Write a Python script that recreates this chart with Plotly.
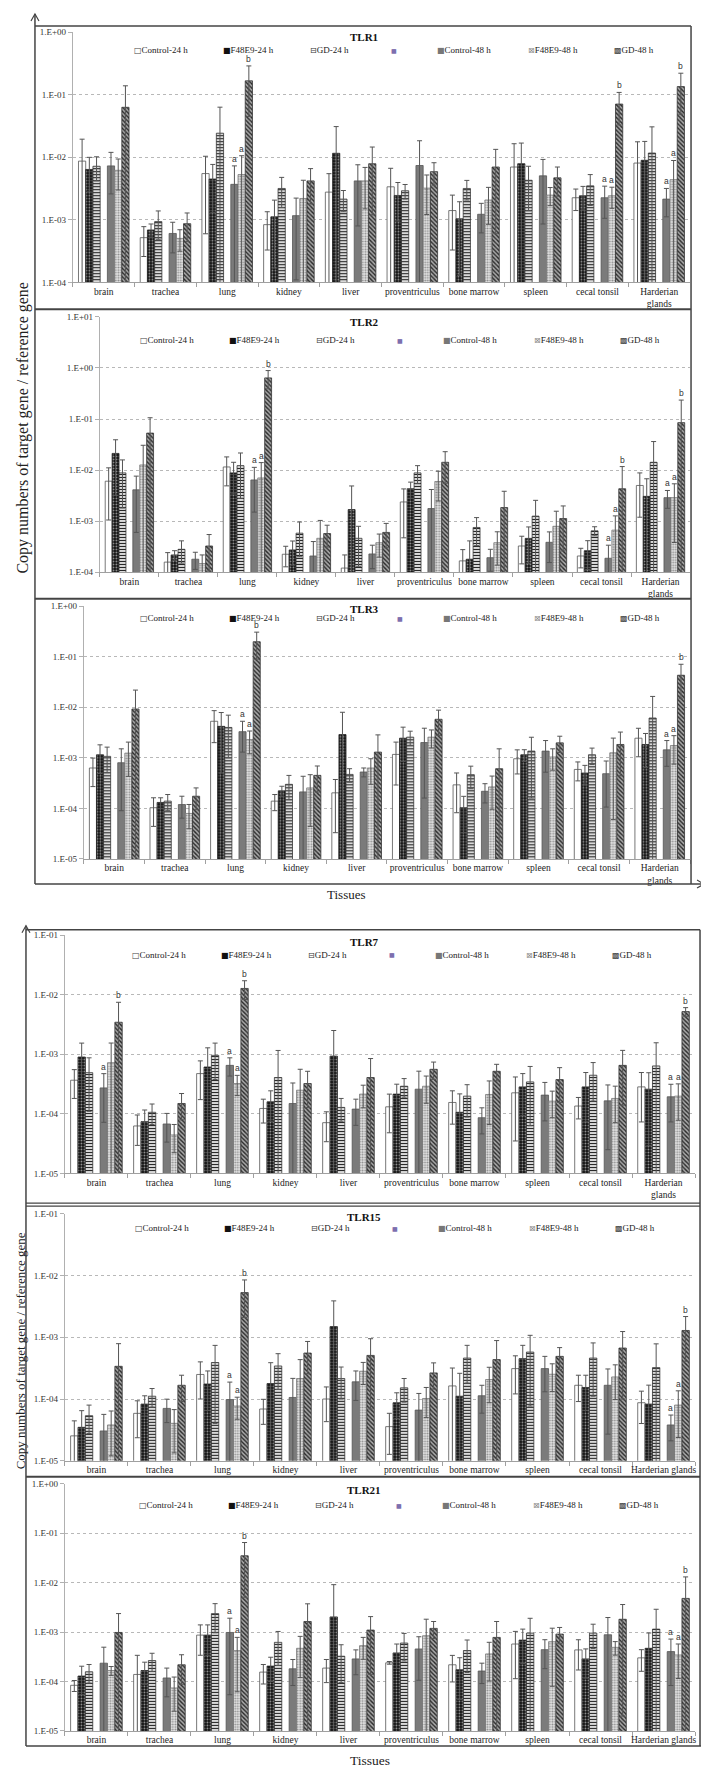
import math
import plotly.graph_objects as go

W, H = 709, 1765

tissues = ["brain", "trachea", "lung", "kidney", "liver", "proventriculus",
           "bone marrow", "spleen", "cecal tonsil", "Harderian glands"]
tissue_labels_wrapped = ["brain", "trachea", "lung", "kidney", "liver", "proventriculus",
                         "bone marrow", "spleen", "cecal tonsil", "Harderian<br>glands"]
series_names = ["Control-24 h", "F48E9-24 h", "GD-24 h", "Control-48 h", "F48E9-48 h", "GD-48 h"]
panel_titles = ["TLR1", "TLR2", "TLR3", "TLR7", "TLR15", "TLR21"]
y_label = "Copy numbers of target gene / reference gene"
x_label = "Tissues"

# ---- TLR1 ----
tlr1_mean = [
    [8.7e-3, 5.2e-4, 5.5e-3, 8.4e-4, 2.78e-3, 3.38e-3, 1.41e-3, 7.0e-3, 2.26e-3, 8.1e-3],
    [6.4e-3, 6.9e-4, 4.5e-3, 1.12e-3, 1.16e-2, 2.46e-3, 1.04e-3, 7.9e-3, 2.43e-3, 8.96e-3],
    [7.2e-3, 9.4e-4, 2.43e-2, 3.18e-3, 2.15e-3, 2.92e-3, 3.18e-3, 4.3e-3, 3.5e-3, 1.17e-2],
    [7.3e-3, 6.07e-4, 3.7e-3, 1.17e-3, 4.2e-3, 7.4e-3, 1.23e-3, 5.06e-3, 2.26e-3, 2.15e-3],
    [6.2e-3, 5.06e-4, 5.3e-3, 2.2e-3, 4.2e-3, 3.22e-3, 2.08e-3, 2.49e-3, 2.43e-3, 4.4e-3],
    [6.3e-2, 8.7e-4, 0.167, 4.2e-3, 7.9e-3, 5.9e-3, 7.0e-3, 4.7e-3, 7.1e-2, 0.135],
]
tlr1_err = [
    [1.08e-2, 2.6e-4, 4.9e-3, 5.1e-4, 2.7e-3, 3.3e-3, 1.08e-3, 9.5e-3, 8.5e-4, 9.6e-3],
    [3.6e-3, 1.7e-4, 3.2e-3, 9.5e-4, 1.94e-2, 1.5e-3, 9.1e-4, 9.0e-3, 1.0e-3, 9.0e-3],
    [3.0e-3, 4.5e-4, 3.9e-2, 1.6e-3, 8e-4, 7.6e-4, 1.1e-3, 2.9e-3, 1.8e-3, 1.9e-2],
    [4.7e-3, 3.1e-4, 3.6e-3, 1.06e-3, 3.4e-3, 1.1e-2, 6.1e-4, 4.2e-3, 1.2e-3, 1.03e-3],
    [3.2e-3, 1.9e-4, 5.3e-3, 2.1e-3, 2.7e-3, 2.0e-3, 1.23e-3, 8e-4, 9e-4, 4.5e-3],
    [7.6e-2, 4.2e-4, 0.122, 2.4e-3, 6.7e-3, 2.3e-3, 6.4e-3, 2.3e-3, 3.8e-2, 8.6e-2],
]
tlr1_letters = [(2, 3, "a"), (2, 4, "a"), (2, 5, "b"), (8, 3, "a"), (8, 4, "a"), (8, 5, "b"),
                (9, 3, "a"), (9, 4, "a"), (9, 5, "b")]

# ---- TLR2 ----
tlr2_mean = [
    [6.05e-3, 1.57e-4, 1.15e-2, 2.24e-4, 1.2e-4, 2.37e-3, 1.66e-4, 3.25e-4, 2.07e-4, 4.99e-3],
    [2.12e-2, 2.17e-4, 8.8e-3, 2.72e-4, 1.68e-3, 4.3e-3, 1.79e-4, 4.58e-4, 2.63e-4, 3.05e-3],
    [8.8e-3, 2.8e-4, 1.22e-2, 5.8e-4, 4.6e-4, 8.8e-3, 7.5e-4, 1.25e-3, 6.45e-4, 1.42e-2],
    [4.1e-3, 1.79e-4, 6.4e-3, 2.07e-4, 2.27e-4, 1.76e-3, 1.92e-4, 3.84e-4, 1.87e-4, 2.88e-3],
    [1.26e-2, 1.47e-4, 7.0e-3, 4.6e-4, 3.77e-4, 5.97e-3, 3.77e-4, 7.9e-4, 6.65e-4, 2.88e-3],
    [5.3e-2, 3.25e-4, 0.64, 5.7e-4, 6.0e-4, 1.42e-2, 1.84e-3, 1.12e-3, 4.3e-3, 8.5e-2],
]
tlr2_err = [
    [5e-3, 8.4e-5, 6.6e-3, 9.7e-5, 9.7e-5, 1.9e-3, 1.1e-4, 1.8e-4, 8.6e-5, 3.8e-3],
    [1.8e-2, 4.6e-5, 5.4e-3, 1.35e-4, 3.2e-3, 1.5e-3, 2.3e-4, 3.1e-4, 1.5e-4, 3.7e-3],
    [7e-3, 1.3e-4, 9.4e-3, 3.8e-4, 3.3e-4, 3.4e-3, 4.2e-4, 1.3e-3, 1.3e-4, 2.2e-2],
    [3.5e-3, 6.6e-5, 4.9e-3, 1.9e-4, 1.1e-4, 2.4e-3, 8.8e-5, 2.3e-4, 1.5e-4, 1.1e-3],
    [1.8e-2, 7e-5, 7.0e-3, 5.7e-4, 1.8e-4, 3.5e-3, 2.4e-4, 7.7e-4, 6e-4, 2.5e-3],
    [5.3e-2, 2.2e-4, 0.25, 2.6e-4, 3e-4, 8.7e-3, 2.0e-3, 8.6e-4, 7.4e-3, 0.15],
]
tlr2_letters = [(2, 3, "a"), (2, 4, "a"), (2, 5, "b"), (8, 3, "a"), (8, 4, "a"), (8, 5, "b"),
                (9, 3, "a"), (9, 4, "a"), (9, 5, "b")]

# ---- TLR3 ----
tlr3_mean = [
    [6.3e-4, 1.03e-4, 5.3e-3, 1.39e-4, 2.03e-4, 1.17e-3, 2.92e-4, 9.6e-4, 5.9e-4, 2.45e-3],
    [1.15e-3, 1.31e-4, 4.2e-3, 2.22e-4, 2.89e-3, 2.45e-3, 1.03e-4, 1.15e-3, 5.0e-4, 1.84e-3],
    [1.07e-3, 1.39e-4, 4.0e-3, 2.99e-4, 4.7e-4, 2.57e-3, 4.65e-4, 1.36e-3, 1.15e-3, 6.15e-3],
    [8.0e-4, 1.19e-4, 3.3e-3, 2.12e-4, 5.25e-4, 2.01e-3, 2.18e-4, 1.36e-3, 4.86e-4, 1.44e-3],
    [1.24e-3, 7.94e-5, 2.3e-3, 2.54e-4, 6.3e-4, 2.57e-3, 2.66e-4, 1.04e-3, 1.26e-3, 1.75e-3],
    [9.27e-3, 1.74e-4, 0.199, 4.5e-4, 1.3e-3, 5.8e-3, 6.1e-4, 1.98e-3, 1.84e-3, 4.32e-2],
]
tlr3_err = [
    [3.6e-4, 5.9e-5, 3.3e-3, 4.9e-5, 1.7e-4, 8.8e-4, 2.1e-4, 4.8e-4, 2.4e-4, 1.4e-3],
    [6.6e-4, 3.1e-5, 3.7e-3, 5.2e-5, 5.1e-3, 1.6e-3, 7e-5, 3e-4, 2.1e-4, 1.2e-3],
    [5.6e-4, 4.9e-5, 3e-3, 1.5e-4, 1.4e-4, 8e-4, 2.2e-4, 1.2e-3, 4.1e-4, 1.03e-2],
    [7.1e-4, 5.5e-5, 2e-3, 2.2e-4, 1.05e-4, 1.85e-3, 9e-5, 8.4e-4, 3.8e-4, 7.6e-4],
    [8.1e-4, 4e-5, 1.1e-3, 2.1e-4, 3.3e-4, 1e-3, 1.7e-4, 4.7e-4, 1.2e-3, 1e-3],
    [1.27e-2, 8e-5, 0.109, 2.4e-4, 1.55e-3, 3e-3, 9e-4, 7e-4, 1.4e-3, 2.8e-2],
]
tlr3_letters = [(2, 3, "a"), (2, 4, "a"), (2, 5, "b"), (9, 3, "a"), (9, 4, "a"), (9, 5, "b")]

# ---- TLR7 ----
tlr7_mean = [
    [3.66e-4, 6.25e-5, 4.73e-4, 1.23e-4, 7.1e-5, 1.31e-4, 1.55e-4, 2.25e-4, 1.35e-4, 2.83e-4],
    [8.97e-4, 7.38e-5, 6.1e-4, 1.59e-4, 9.3e-4, 2.14e-4, 1.06e-4, 2.83e-4, 2.83e-4, 2.59e-4],
    [4.9e-4, 1.06e-4, 9.57e-4, 4.06e-4, 1.28e-4, 2.9e-4, 1.98e-4, 3.43e-4, 4.44e-4, 6.36e-4],
    [2.72e-4, 6.75e-5, 6.5e-4, 1.49e-4, 1.2e-4, 2.59e-4, 8.6e-5, 2.06e-4, 1.65e-4, 1.93e-4],
    [7.2e-4, 4.42e-5, 3.22e-4, 2.49e-4, 2.14e-4, 2.9e-4, 2.11e-4, 1.63e-4, 1.81e-4, 1.98e-4],
    [3.44e-3, 1.49e-4, 1.27e-2, 3.22e-4, 4.06e-4, 5.58e-4, 5.17e-4, 3.75e-4, 6.5e-4, 5.19e-3],
]
tlr7_err = [
    [1.85e-4, 3.3e-5, 3e-4, 5.3e-5, 3.7e-5, 8.3e-5, 8.8e-5, 1.9e-4, 5.3e-5, 2.1e-4],
    [6.4e-4, 4.2e-5, 6.7e-4, 8.4e-5, 1.57e-3, 1e-4, 1.1e-4, 1.9e-4, 2.1e-4, 2.3e-4],
    [3.8e-4, 4e-5, 5.8e-4, 7.5e-4, 5.3e-5, 1e-4, 1.1e-4, 2.8e-4, 2.8e-4, 9.2e-4],
    [2e-4, 3.4e-5, 2.2e-4, 1.8e-4, 5.6e-5, 2.6e-4, 4e-5, 1.3e-4, 1.4e-4, 1.2e-4],
    [8.2e-4, 2.2e-5, 1.2e-4, 3.1e-4, 8.8e-5, 1.4e-4, 1.45e-4, 7.7e-5, 1.1e-4, 1.2e-4],
    [4e-3, 7e-5, 4.4e-3, 1.95e-4, 4.4e-4, 1.8e-4, 1.6e-4, 2.2e-4, 5.1e-4, 8.6e-4],
]
tlr7_letters = [(0, 3, "a"), (0, 5, "b"), (2, 3, "a"), (2, 4, "a"), (2, 5, "b"),
                (9, 3, "a"), (9, 4, "a"), (9, 5, "b")]

# ---- TLR15 ----
tlr15_mean = [
    [2.53e-5, 5.86e-5, 2.5e-4, 6.89e-5, 1.0e-4, 3.57e-5, 1.63e-4, 3.11e-4, 1.67e-4, 8.71e-5],
    [3.48e-5, 8.28e-5, 1.75e-4, 1.78e-4, 1.49e-3, 8.71e-5, 1.11e-4, 4.51e-4, 1.54e-4, 8.28e-5],
    [5.37e-5, 1.11e-4, 3.9e-4, 3.43e-4, 2.15e-4, 1.52e-4, 4.61e-4, 5.77e-4, 4.61e-4, 3.23e-4],
    [3.04e-5, 7.05e-5, 9.8e-5, 1.06e-4, 1.9e-4, 6.62e-5, 1.13e-4, 3.11e-4, 1.67e-4, 3.8e-5],
    [3.8e-5, 4.04e-5, 7.7e-5, 2.15e-4, 2.82e-4, 1.02e-4, 2.07e-4, 2.52e-4, 2.28e-4, 7.98e-5],
    [3.39e-4, 1.67e-4, 5.3e-3, 5.56e-4, 5.09e-4, 2.65e-4, 4.35e-4, 4.91e-4, 6.7e-4, 1.29e-3],
]
tlr15_err = [
    [1.9e-5, 3.5e-5, 1.5e-4, 3e-5, 5.7e-5, 2.3e-5, 1.55e-4, 1.9e-4, 7.6e-5, 4.7e-5],
    [3e-5, 3e-5, 1.1e-4, 2.1e-4, 2.4e-3, 3.9e-5, 1.5e-4, 2.9e-4, 8.9e-5, 8.5e-5],
    [2.6e-5, 3.7e-5, 3.5e-4, 2e-4, 1.15e-4, 6.3e-5, 2.8e-4, 5e-4, 3.5e-4, 4.6e-4],
    [2.6e-5, 2.9e-5, 9e-5, 1.1e-4, 9.5e-5, 5.7e-5, 5.4e-5, 1.8e-4, 1.4e-4, 1.7e-5],
    [2.6e-5, 2.7e-5, 3e-5, 2.2e-4, 1.1e-4, 5.2e-5, 1.2e-4, 1.2e-4, 1.3e-4, 5.6e-5],
    [4.5e-4, 7.6e-5, 3.2e-3, 3e-4, 4.4e-4, 1.2e-4, 4.5e-4, 1.9e-4, 5.7e-4, 8.8e-4],
]
tlr15_letters = [(2, 3, "a"), (2, 4, "a"), (2, 5, "b"), (9, 3, "a"), (9, 4, "a"), (9, 5, "b")]

# ---- TLR21 ----
tlr21_mean = [
    [8.38e-5, 1.39e-4, 8.7e-4, 1.55e-4, 1.87e-4, 2.39e-4, 2.18e-4, 5.74e-4, 4.36e-4, 3.01e-4],
    [1.29e-4, 1.67e-4, 8.7e-4, 2.05e-4, 2.03e-3, 3.79e-4, 1.73e-4, 6.9e-4, 2.87e-4, 4.7e-4],
    [1.57e-4, 2.66e-4, 2.37e-3, 6.21e-4, 3.25e-4, 6.01e-4, 4.22e-4, 9.55e-4, 9.55e-4, 1.15e-3],
    [2.35e-4, 1.18e-4, 9.84e-4, 1.81e-4, 2.87e-4, 4.56e-4, 1.63e-4, 4.42e-4, 8.84e-4, 4.03e-4],
    [1.67e-4, 7.41e-5, 4.22e-4, 4.7e-4, 5.32e-4, 8.44e-4, 3.62e-4, 6.4e-4, 4.92e-4, 3.45e-4],
    [9.84e-4, 2.18e-4, 3.51e-2, 1.64e-3, 1.1e-3, 1.19e-3, 7.81e-4, 9.12e-4, 1.82e-3, 4.81e-3],
]
tlr21_err = [
    [2.1e-5, 2e-4, 5.3e-4, 6.6e-5, 9.2e-5, 1.5e-5, 1.2e-4, 4.6e-4, 2.65e-4, 1.4e-4],
    [7.5e-5, 7.9e-5, 5.3e-4, 1.05e-4, 7.1e-3, 1.95e-4, 1.3e-4, 4.6e-4, 1.7e-4, 4.9e-4],
    [6.4e-5, 1.07e-4, 1.4e-3, 4.1e-4, 2.3e-4, 3.4e-4, 2.7e-4, 9.5e-4, 4.9e-4, 1.75e-3],
    [2.6e-4, 6.9e-5, 9.3e-4, 9.8e-5, 1.5e-4, 3.5e-4, 7.2e-5, 2.6e-4, 1.09e-3, 3.2e-4],
    [3.4e-5, 4.9e-5, 3.6e-4, 3.5e-4, 2.5e-4, 9.8e-4, 2.6e-4, 5.6e-4, 1.5e-4, 2.3e-4],
    [1.39e-3, 1.3e-4, 3e-2, 2.1e-3, 9.6e-4, 4.5e-4, 8.6e-4, 3.3e-4, 1.8e-3, 8.3e-3],
]
tlr21_letters = [(2, 3, "a"), (2, 4, "a"), (2, 5, "b"), (9, 3, "a"), (9, 4, "a"), (9, 5, "b")]

panel_means = [tlr1_mean, tlr2_mean, tlr3_mean, tlr7_mean, tlr15_mean, tlr21_mean]
panel_errs = [tlr1_err, tlr2_err, tlr3_err, tlr7_err, tlr15_err, tlr21_err]
panel_letters = [tlr1_letters, tlr2_letters, tlr3_letters, tlr7_letters, tlr15_letters, tlr21_letters]
panel_exp_range = [(-4, 0), (-4, 1), (-5, 0), (-5, -1), (-5, -1), (-5, 0)]

# ---------------- layout geometry (pixels) ----------------
def X(px):
    return px / W

def Y(py):
    return 1 - py / H

geom = [  # x0, x1, ytop, ybottom, wrapped labels, legend y, legend dx, title y
    (65, 683, 19.3, 271.0, True, 37.5, 0, 24),
    (92, 683, 305.7, 562.3, True, 329, 6, 311),
    (76, 683, 596.7, 850.7, True, 608.5, 6, 599),
    (57, 688, 927.3, 1167.0, True, 947, -2, 934),
    (57, 688, 1207.7, 1456.0, False, 1222, 1, 1211),
    (57, 688, 1479.3, 1727.7, False, 1501, 5, 1485),
]
legend_x = [124, 213, 300, 382, 428, 519, 605]

slot_w = 0.117
slot_start = -0.4095
series_slot = [0, 1, 2, 4, 5, 6]

styles = [
    dict(color="white", line=dict(color="#555", width=0.8)),
    dict(color="#111", line=dict(color="#222", width=0.8),
         pattern=dict(shape=".", bgcolor="#111", fgcolor="#9a9a9a", size=3, solidity=0.3, fillmode="replace")),
    dict(color="white", line=dict(color="#333", width=0.8),
         pattern=dict(shape="-", bgcolor="white", fgcolor="#222", size=3, solidity=0.45, fillmode="replace")),
    dict(color="#7b7b7b", line=dict(color="#555", width=0.8)),
    dict(color="#dddddd", line=dict(color="#777", width=0.8),
         pattern=dict(shape=".", bgcolor="#e4e4e4", fgcolor="#8a8a8a", size=2.6, solidity=0.4, fillmode="replace")),
    dict(color="#999", line=dict(color="#333", width=0.8),
         pattern=dict(shape="\\", bgcolor="#a8a8a8", fgcolor="#2a2a2a", size=3, solidity=0.45, fillmode="replace")),
]

legend_glyphs = [("□", "#444"), ("■", "#111"), ("⊟", "#333"), ("■", "#7d6fae"),
                 ("■", "#777"), ("⊠", "#888"), ("▩", "#444")]
legend_names = [series_names[0], series_names[1], series_names[2], "",
                series_names[3], series_names[4], series_names[5]]

SERIF = "Liberation Serif, Times New Roman, serif"

fig = go.Figure()
annotations = []
shapes = []
layout_axes = {}

for p in range(6):
    x0, x1, yt, yb, wrap, leg_y, leg_dx, title_y = geom[p]
    lo, hi = panel_exp_range[p]
    labels = tissue_labels_wrapped if wrap else tissues
    xa = "x" if p == 0 else f"x{p+1}"
    ya = "y" if p == 0 else f"y{p+1}"
    xkey = "xaxis" if p == 0 else f"xaxis{p+1}"
    ykey = "yaxis" if p == 0 else f"yaxis{p+1}"
    means = panel_means[p]
    errs = panel_errs[p]
    for k in range(6):
        st = styles[k]
        slot = series_slot[k]
        fig.add_trace(go.Bar(
            x=labels, y=means[k], xaxis=xa, yaxis=ya,
            name=series_names[k], showlegend=False,
            width=slot_w, offset=slot_start + slot * slot_w,
            marker=st,
            error_y=dict(type="data", array=errs[k], visible=True,
                         color="#555", thickness=1, width=2.5),
        ))
    layout_axes[xkey] = dict(
        domain=[X(x0), X(x1)], anchor=ya, type="category",
        categoryorder="array", categoryarray=labels, range=[-0.5, 9.5],
        showline=True, linecolor="#a0a0a0", linewidth=1,
        ticks="outside", tickson="boundaries", ticklen=4, tickcolor="#a0a0a0",
        tickangle=0,
        showgrid=False, zeroline=False, fixedrange=True,
        tickfont=dict(family=SERIF, size=9.5, color="#222"),
    )
    tv = [10.0 ** e for e in range(lo, hi + 1)]
    tt = ["1.E" + format(e, "+03d") for e in range(lo, hi + 1)]
    layout_axes[ykey] = dict(
        domain=[Y(yb), Y(yt)], anchor=xa, type="log", range=[lo, hi],
        tickmode="array", tickvals=tv, ticktext=tt,
        showgrid=True, gridcolor="#b8b8b8", griddash="dot", gridwidth=1,
        showline=True, linecolor="#b0b0b0", linewidth=1,
        ticks="outside", ticklen=4, tickcolor="#b0b0b0",
        zeroline=False, fixedrange=True,
        tickfont=dict(family=SERIF, size=9, color="#333"),
    )
    # title
    annotations.append(dict(text="<b>" + panel_titles[p] + "</b>", x=X(357), y=Y(title_y),
                            xref="paper", yref="paper", showarrow=False,
                            xanchor="center", yanchor="middle",
                            font=dict(family=SERIF, size=11, color="#111")))
    # legend row
    for j in range(7):
        g, gc = legend_glyphs[j]
        gsize = 6 if j == 3 else 8
        txt = (f'<span style="font-family:DejaVu Sans;font-size:{gsize}px;fill:{gc};color:{gc}">{g}</span>'
               + legend_names[j])
        annotations.append(dict(text=txt, x=X(legend_x[j] + leg_dx), y=Y(leg_y),
                                xref="paper", yref="paper", showarrow=False,
                                xanchor="left", yanchor="middle",
                                font=dict(family=SERIF, size=9, color="#222")))
    # significance letters
    for (ti, k, letter) in panel_letters[p]:
        slot = series_slot[k]
        xc = ti + slot_start + slot * slot_w + slot_w / 2
        top = means[k][ti] + errs[k][ti]
        annotations.append(dict(text=letter, x=xc, y=math.log10(top), xref=xa, yref=ya,
                                showarrow=False, xanchor="center", yanchor="bottom", yshift=0,
                                font=dict(family="Liberation Sans, Arial, sans-serif", size=8.5, color="#333")))

# axis titles
annotations.append(dict(text=y_label, x=X(15), y=Y(417), xref="paper", yref="paper",
                        showarrow=False, textangle=-90, xanchor="center", yanchor="middle",
                        font=dict(family=SERIF, size=16, color="#222")))
annotations.append(dict(text=y_label, x=X(12), y=Y(1345), xref="paper", yref="paper",
                        showarrow=False, textangle=-90, xanchor="center", yanchor="middle",
                        font=dict(family=SERIF, size=13, color="#222")))
annotations.append(dict(text=x_label, x=X(339), y=Y(887), xref="paper", yref="paper",
                        showarrow=False, xanchor="center", yanchor="middle",
                        font=dict(family=SERIF, size=13, color="#222")))
annotations.append(dict(text=x_label, x=X(363), y=Y(1757), xref="paper", yref="paper",
                        showarrow=False, xanchor="center", yanchor="middle",
                        font=dict(family=SERIF, size=13.5, color="#222")))

FR = "#444"

def hline(y, xa_, xb_, w=1.5, c=FR):
    shapes.append(dict(type="line", xref="paper", yref="paper", x0=X(xa_), x1=X(xb_),
                       y0=Y(y), y1=Y(y), line=dict(color=c, width=w)))

def vline(x, ya_, yb_, w=1.5, c=FR):
    shapes.append(dict(type="line", xref="paper", yref="paper", x0=X(x), x1=X(x),
                       y0=Y(ya_), y1=Y(yb_), line=dict(color=c, width=w)))

def path(pts, w=1.2, c=FR):
    d = "M " + " L ".join(f"{X(a)},{Y(b)}" for a, b in pts)
    shapes.append(dict(type="path", xref="paper", yref="paper", path=d,
                       line=dict(color=c, width=w)))

# top figure frame
vline(27, 1, 876)
path([(23, 8), (27, 1), (31, 8)])
hline(13, 27, 684)
vline(684, 13, 876)
hline(298, 27, 684, w=2)
hline(589, 27, 684, w=2)
hline(876, 27, 697)
path([(690, 872), (697, 876), (690, 880)])

# bottom figure frame
vline(18, 918, 1743)
path([(14, 925), (18, 918), (22, 925)])
hline(922, 18, 693)
vline(693, 922, 1743)
hline(1197, 18, 693, w=1.2)
hline(1200, 18, 693, w=1.2)
hline(1472, 18, 693, w=2)
hline(1743, 18, 707)
path([(700, 1739), (707, 1743), (700, 1747)])

fig.update_layout(
    width=W, height=H, autosize=False,
    margin=dict(l=0, r=0, t=0, b=0),
    paper_bgcolor="white", plot_bgcolor="white",
    barmode="overlay", showlegend=False,
    annotations=annotations, shapes=shapes,
    **layout_axes,
)

fig.write_html("out.html")
